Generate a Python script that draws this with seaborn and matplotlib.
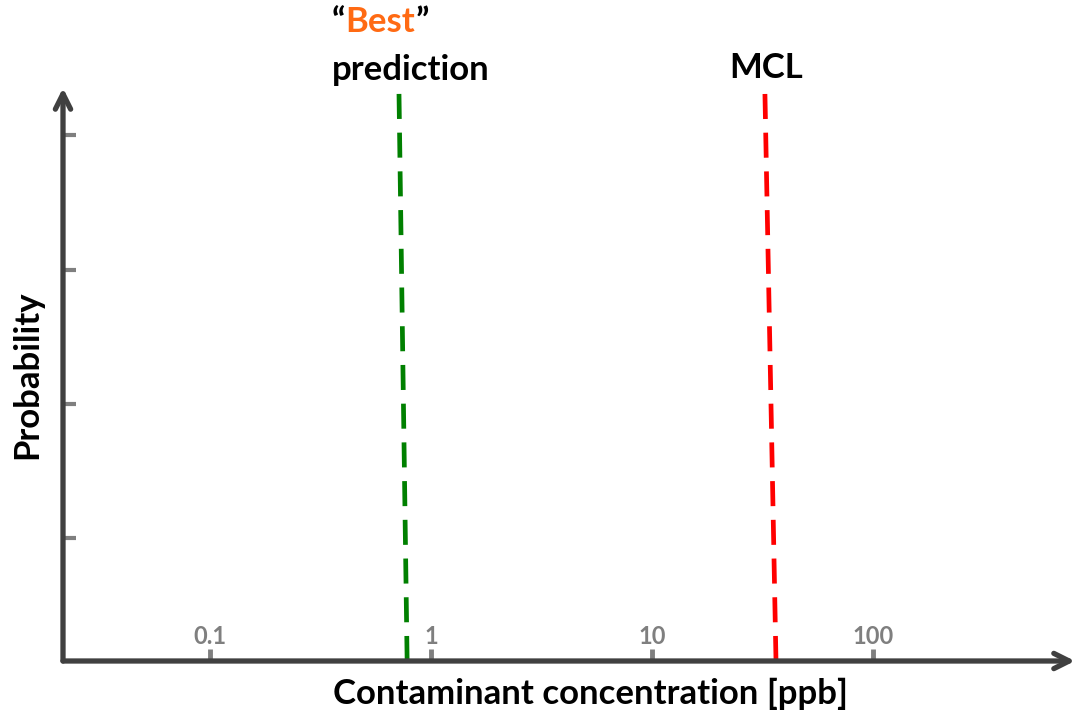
import matplotlib
matplotlib.use("Agg")
import matplotlib.pyplot as plt
import seaborn as sns
import pandas as pd

# data
x_ticks = [0.1, 1, 10, 100]
x_tick_labels = ["0.1", "1", "10", "100"]
y_ticks = [123, 257, 391, 526]
line_heights = [0, 573]
best_x = [0.78, 0.716]   # "Best" prediction line, bottom -> top
mcl_x = [36.4, 32.4]     # MCL line, bottom -> top

sns.set_style("white")
plt.rcParams["font.family"] = ["Lato", "DejaVu Sans"]
plt.rcParams["text.color"] = "black"

fig = plt.figure(figsize=(10.83, 7.17), dpi=100)
ax = fig.add_axes([63 / 1083, 56 / 717, (1075 - 63) / 1083, (661 - 88) / 717])
ax.set_xscale("log")
ax.set_xlim(10 ** -1.665, 10 ** 2.914)
ax.set_ylim(0, 573)

df = pd.DataFrame({"x": best_x + mcl_x, "y": line_heights * 2,
                   "which": ["best", "best", "mcl", "mcl"]})
sns.lineplot(data=df, x="x", y="y", hue="which", sort=False, estimator=None,
             palette={"best": "#008000", "mcl": "#ff0000"}, linewidth=3.4,
             legend=False, ax=ax, zorder=2)
for l in ax.lines:
    l.set_dashes([5.3, 2.9])

for s in ax.spines.values():
    s.set_visible(False)

axis_col = "#404040"
arrow = dict(arrowstyle="->,head_length=1.1,head_width=0.55", lw=3.8,
             color=axis_col, shrinkA=0, shrinkB=0, capstyle="round",
             joinstyle="round")
ax.annotate("", xy=(1, 0), xytext=(0, 0), xycoords="axes fraction",
            arrowprops=arrow, zorder=3, annotation_clip=False)
ax.annotate("", xy=(0, 1), xytext=(0, 0), xycoords="axes fraction",
            arrowprops=arrow, zorder=3, annotation_clip=False)

ax.set_xticks(x_ticks)
ax.set_xticklabels(x_tick_labels, fontsize=17, fontweight="bold", color="#7f7f7f")
ax.minorticks_off()
ax.tick_params(axis="x", direction="in", length=9, width=3.5, color="#7f7f7f",
               pad=-26, bottom=True)
ax.set_yticks(y_ticks)
ax.set_yticklabels([])
ax.tick_params(axis="y", direction="in", length=9, width=3, color="#7f7f7f",
               left=True)

ax.set_xlabel("Contaminant concentration [ppb]", fontsize=25, fontweight="bold",
              color="black")
ax.xaxis.set_label_coords(0.521, -0.03)
ax.xaxis.label.set_va("top")
ax.set_ylabel("Probability", fontsize=25, fontweight="bold", labelpad=11,
              color="black")

big = dict(fontsize=25, fontweight="bold", color="black")
q1 = fig.text(332 / 1083, 1 - 22 / 717, "\u201c", ha="left", va="center", **big)
best = ax.annotate("Best", xy=(1, 0), xycoords=q1, ha="left", va="bottom",
                   annotation_clip=False, **{**big, "color": "#ff6a13"})
ax.annotate("\u201d", xy=(1, 0), xycoords=best, ha="left", va="bottom",
            annotation_clip=False, **big)
fig.text(411 / 1083, 1 - 70 / 717, "prediction", ha="center", va="center", **big)
fig.text(766 / 1083, 1 - 68 / 717, "MCL", ha="center", va="center", **big)

fig.savefig("out.png", dpi=100)
